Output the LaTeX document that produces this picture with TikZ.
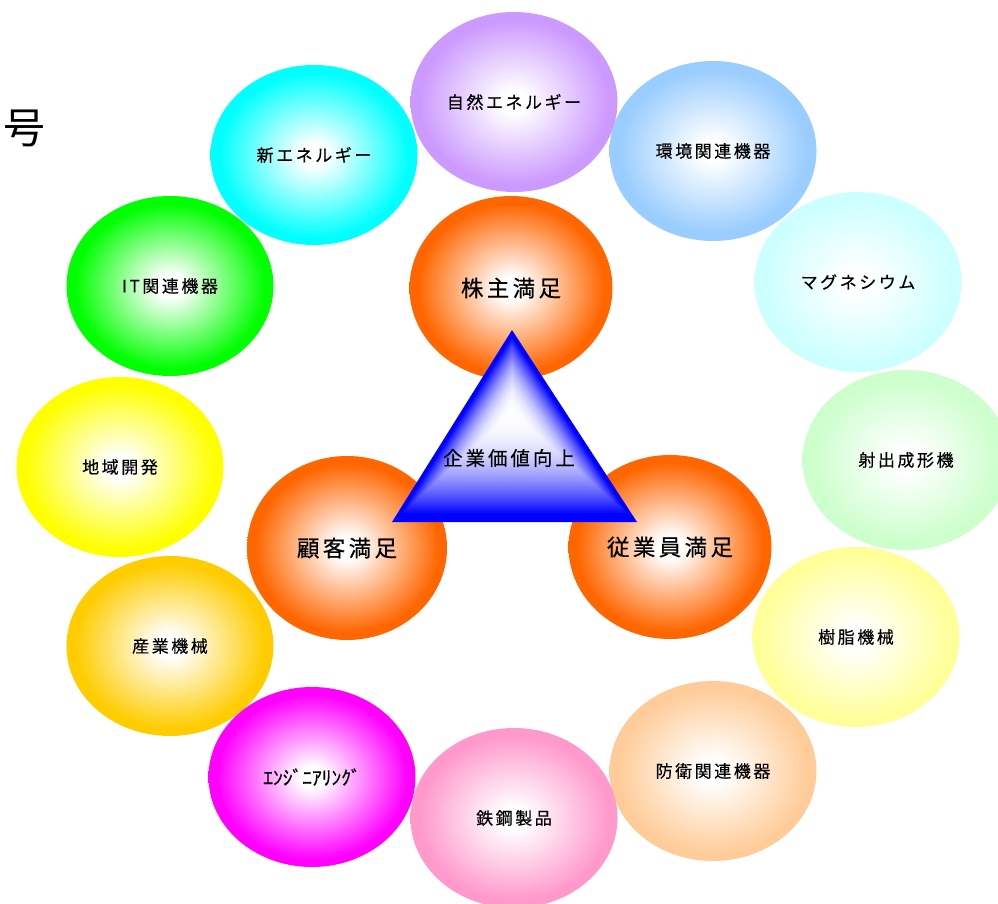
\documentclass[tikz,border=0pt]{standalone}
\usepackage{fontspec}
\usetikzlibrary{shapes.geometric,calc}
\newfontfamily\jp[FakeBold=0.4]{Noto Sans CJK JP}
\newfontfamily\jpplain{Noto Sans CJK JP}
\newfontfamily\jpsp[LetterSpace=15,FakeBold=0.4]{Noto Sans CJK JP}
\definecolor{cLav}{HTML}{CC99FF}
\definecolor{cCyan}{HTML}{00FFFF}
\definecolor{cSky}{HTML}{99CCFF}
\definecolor{cGreen}{HTML}{00FF00}
\definecolor{cPaleCyan}{HTML}{CCFFFF}
\definecolor{cYellow}{HTML}{FFFF00}
\definecolor{cPaleGreen}{HTML}{CCFFCC}
\definecolor{cGold}{HTML}{FFCC00}
\definecolor{cPaleYellow}{HTML}{FFFF99}
\definecolor{cMagenta}{HTML}{FF00FF}
\definecolor{cTan}{HTML}{FFCC99}
\definecolor{cPink}{HTML}{FF99CC}
\definecolor{cOrange}{HTML}{FF6600}
\definecolor{cBlue}{HTML}{0000FF}
\colorlet{ballout}{cLav}
\pgfdeclareradialshading[ballout]{softball}{\pgfpoint{0bp}{0bp}}{color(0bp)=(white); color(3bp)=(white); color(23bp)=(ballout); color(50bp)=(ballout)}
\tikzset{
  ball/.style={ellipse, inner sep=0pt, minimum width=207pt, minimum height=180pt,
    /utils/exec={\colorlet{ballout}{#1}}, shading=softball},
  lbl/.style={font=\jpsp\fontsize{17}{19}\selectfont, text=black},
  big/.style={ellipse, inner sep=0pt, minimum width=203pt, minimum height=184pt,
    /utils/exec={\colorlet{ballout}{cOrange}}, shading=softball,
    font=\jpsp\fontsize{22.5}{25}\selectfont, text=black},
}
\begin{document}
\begin{tikzpicture}[x=1pt,y=-1pt]
\useasboundingbox (0,0) rectangle (998,904);
\clip (0,0) rectangle (998,904);
% outer ring
\node[ball=cLav, lbl] (nat) at (514,102) {自然エネルギー};
\node[ball=cSky, lbl] (env) at (713,151) {環境関連機器};
\node[ball=cCyan, lbl] (newe) at (314,155) {新エネルギー};
\node[ball=cGreen, lbl] (it) at (170,286) {IT関連機器};
\node[ball=cPaleCyan, lbl] (mg) at (858,282) {マグネシウム};
\node[ball=cYellow, lbl] (reg) at (120,467) {地域開発};
\node[ball=cPaleGreen, lbl] (inj) at (906,460) {射出成形機};
\node[ball=cGold, lbl] (ind) at (170,646) {産業機械};
\node[ball=cPaleYellow, lbl] (res) at (856,637) {樹脂機械};
\node[ball=cTan, lbl] (def) at (713,771) {防衛関連機器};
\node[ball=cPink, lbl] (steel) at (514,818) {鉄鋼製品};
\node[ball=cMagenta, font=\jp\fontsize{19.5}{21}\selectfont] (eng) at (312,777) {ｴﾝｼﾞﾆｱﾘﾝｸﾞ};
% inner three
\node[big] (share) at (511,288) {株主満足};
\node[big, minimum width=200pt] (cust) at (347,548) {顧客満足};
\node[big] (emp) at (670,547) {従業員満足};
% triangle
\coordinate (A) at (512,330);
\coordinate (B) at (392,522);
\coordinate (C) at (637,522);
\coordinate (F) at (512,412);
\foreach \i in {60,59,...,1}{
  \pgfmathsetmacro\s{\i/60}
  \pgfmathsetmacro\p{min(100,115*\s^2.1)}
  \fill[cBlue!\p!white] ($(F)!\s!(A)$) -- ($(F)!\s!(B)$) -- ($(F)!\s!(C)$) -- cycle;
}
\node[font=\jpsp\fontsize{19.5}{21}\selectfont, text=black] (val) at (509,458) {企業価値向上};
% cut-off title character
\node[font=\jpplain\fontsize{42}{44}\selectfont, text=black, inner sep=0pt] (gou) at (24,128) {号};
\end{tikzpicture}
\end{document}
